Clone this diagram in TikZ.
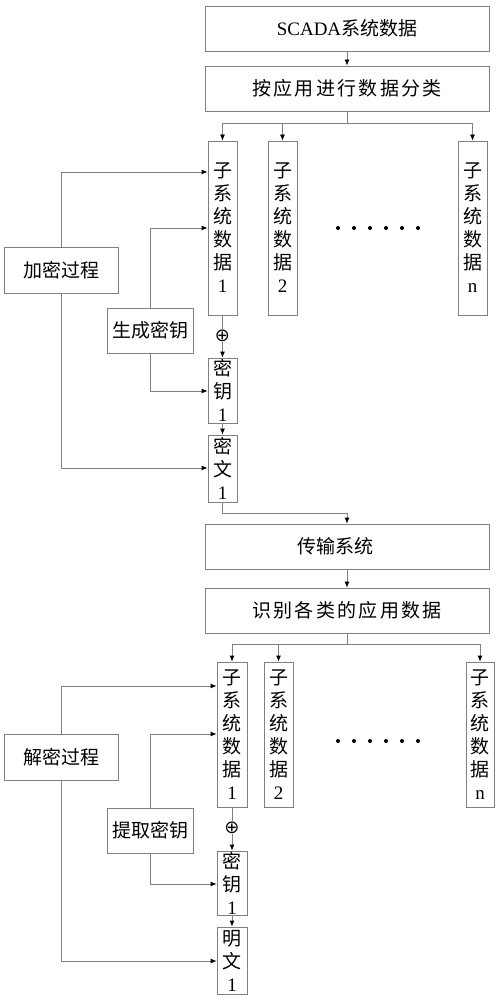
\documentclass[tikz,border=0pt]{standalone}
\usepackage{fontspec}
\setmainfont{Liberation Serif}
\newfontfamily\cjk{Noto Sans CJK SC}
\newfontfamily\cjkwide{Noto Sans CJK SC}[LetterSpace=12]
\newfontfamily\symfont{DejaVu Sans}
\usetikzlibrary{arrows.meta}
\begin{document}
\begin{tikzpicture}[x=1pt,y=-1pt,
  box/.style={draw=black!50,line width=0.8pt,inner sep=0pt,align=center,font=\fontsize{19}{23}\selectfont},
  wide/.style={box,minimum width=284pt,minimum height=45pt},
  col/.style={box,minimum width=29pt},
  side/.style={box,minimum height=45pt},
  xorsym/.style={inner sep=0pt,font=\fontsize{18}{18}\selectfont\symfont},
  ln/.style={draw=black!50,line width=0.8pt},
  arr/.style={ln,-{Latex[length=6pt,width=5pt,color=black]}}]
\useasboundingbox (0,0) rectangle (499,1000);
% top part
\node[wide] (scada) at (347,28.5) {SCADA{\cjk 系统数据}};
\node[wide] (cls) at (347,88.5) {\cjkwide 按应用进行数据分类};
\node[col,minimum height=174pt] (s1) at (222.5,228) {\cjk 子\\\cjk 系\\\cjk 统\\\cjk 数\\\cjk 据\\1};
\node[col,minimum height=174pt] (s2) at (282.5,228) {\cjk 子\\\cjk 系\\\cjk 统\\\cjk 数\\\cjk 据\\2};
\node[col,minimum height=174pt] (sn) at (472.5,228) {\cjk 子\\\cjk 系\\\cjk 统\\\cjk 数\\\cjk 据\\n};
\foreach \x in {338,354,370,386,402,418} \fill (\x,228) circle (2pt);
\node[side,minimum width=114pt,minimum height=46pt] (enc) at (61,270) {\cjk 加密过程};
\node[side,minimum width=86pt] (gen) at (150,330.5) {\cjk 生成密钥};
\node[xorsym] (o1) at (222.5,336) {⊕};
\node[col,minimum height=65pt] (k1) at (222.5,390.5) {\cjk 密\\\cjk 钥\\1};
\node[col,minimum height=67pt] (c1) at (222.5,468.5) {\cjk 密\\\cjk 文\\1};
% bottom part nodes
\node[wide] (trans) at (347,546.5) {\cjk 传输系统\hspace{24pt}};
\node[wide] (ident) at (347,610.5) {\cjkwide 识别各类的应用数据};
\node[col,minimum width=30pt,minimum height=145pt] (t1) at (232,734.5) {\cjk 子\\\cjk 系\\\cjk 统\\\cjk 数\\\cjk 据\\1};
\node[col,minimum height=145pt] (t2) at (278.5,734.5) {\cjk 子\\\cjk 系\\\cjk 统\\\cjk 数\\\cjk 据\\2};
\node[col,minimum width=28pt,minimum height=145pt] (tn) at (480,734.5) {\cjk 子\\\cjk 系\\\cjk 统\\\cjk 数\\\cjk 据\\n};
\foreach \x in {338,354,370,386,402,418} \fill (\x,741) circle (2pt);
\node[side,minimum width=114pt,minimum height=46pt] (dec) at (61,757) {\cjk 解密过程};
\node[side,minimum width=86pt] (ext) at (150,830.5) {\cjk 提取密钥};
\node[xorsym] (o2) at (232,828) {⊕};
\node[col,minimum width=30pt,minimum height=64pt] (k2) at (232,883) {\cjk 密\\\cjk 钥\\1};
\node[col,minimum width=30pt,minimum height=67pt] (p1) at (232,960.5) {\cjk 明\\\cjk 文\\1};
% top connectors
\coordinate (b1) at (347,123);
\coordinate (m1) at (347,513);
\coordinate (ya) at (0,172);
\coordinate (yb) at (0,228);
\coordinate (yc) at (0,391);
\coordinate (yd) at (0,468);
\draw[arr] (scada.south) -- (cls.north);
\draw[ln] (cls.south) -- (b1);
\draw[arr] (b1) -| (s1.north);
\draw[arr] (b1) -| (s2.north);
\draw[arr] (b1) -| (sn.north);
\draw[arr] (enc.north) |- (ya -| s1.west);
\draw[arr] (gen.north) |- (yb -| s1.west);
\draw[arr] (gen.south) |- (yc -| k1.west);
\draw[arr] (enc.south) |- (yd -| c1.west);
\draw[ln] (s1.south) -- (o1.north);
\draw[arr] (o1.south) -- (k1.north);
\draw[arr] (k1.south) -- (c1.north);
\draw[arr] (c1.south) |- (m1) -- (trans.north);
% bottom connectors
\coordinate (b2) at (347,644);
\coordinate (ye) at (0,686);
\coordinate (yf) at (0,734);
\coordinate (yg) at (0,884);
\coordinate (yh) at (0,961);
\draw[arr] (trans.south) -- (ident.north);
\draw[ln] (ident.south) -- (b2);
\draw[arr] (b2) -| (t1.north);
\draw[arr] (b2) -| (t2.north);
\draw[arr] (b2) -| (tn.north);
\draw[arr] (dec.north) |- (ye -| t1.west);
\draw[arr] (ext.north) |- (yf -| t1.west);
\draw[arr] (ext.south) |- (yg -| k2.west);
\draw[arr] (dec.south) |- (yh -| p1.west);
\draw[ln] (t1.south) -- (o2.north);
\draw[arr] (o2.south) -- (k2.north);
\draw[arr] (k2.south) -- (p1.north);
\end{tikzpicture}
\end{document}
